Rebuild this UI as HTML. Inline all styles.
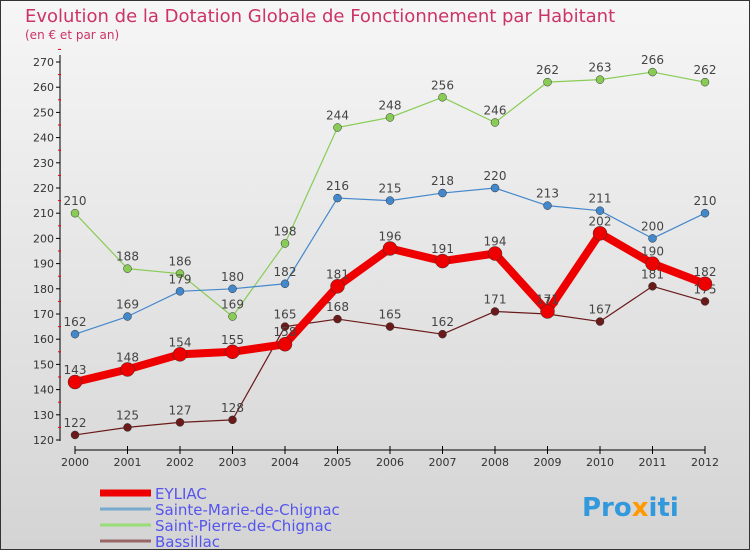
<!DOCTYPE html>
<html><head><meta charset="utf-8"><style>
body{margin:0;}
#c{width:750px;height:550px;position:relative;overflow:hidden;font-family:"DejaVu Sans","Liberation Sans",sans-serif;}
</style></head><body>
<div id="c">
<svg id="s" width="750" height="550" xmlns="http://www.w3.org/2000/svg">
<defs><linearGradient id="bg" x1="0" y1="0" x2="0" y2="1"><stop offset="0" stop-color="#f6f6f6"/><stop offset="1" stop-color="#d4d4d4"/></linearGradient></defs>
<rect x="0.5" y="0.5" width="749" height="549" fill="url(#bg)" stroke="#333"/>
<text x="25" y="22" font-size="18" fill="#cc3366">Evolution de la Dotation Globale de Fonctionnement par Habitant</text>
<text x="25" y="39" font-size="12" fill="#cc3366">(en € et par an)</text>
<g id="axes"></g><g id="series"></g><g id="legend"></g>
<text x="582" y="516" font-size="26" font-weight="bold" fill="#3399dd">Pro<tspan fill="#ff9900">x</tspan>iti</text>
</svg></div>
<script>
const years=["2000","2001","2002","2003","2004","2005","2006","2007","2008","2009","2010","2011","2012"];
const yTicks=[120,130,140,150,160,170,180,190,200,210,220,230,240,250,260,270];
const eyliac=[143,148,154,155,158,181,196,191,194,171,202,190,182];
const steMarie=[162,169,179,180,182,216,215,218,220,213,211,200,210];
const stPierre=[210,188,186,169,198,244,248,256,246,262,263,266,262];
const bassillac=[122,125,127,128,165,168,165,162,171,170,167,181,175];
const NS="http://www.w3.org/2000/svg";
const X=i=>75+i*52.5, Y=v=>440-(v-120)*2.52;
function mk(t,a,p){const e=document.createElementNS(NS,t);for(const k in a)e.setAttribute(k,a[k]);p.appendChild(e);return e;}
const ax=document.getElementById('axes');
let yl=mk('line',{x1:60,y1:55,x2:60,y2:441,stroke:'#000'},ax);

let xl=mk('line',{x1:75,y1:450,x2:705,y2:450,stroke:'#000'},ax);

yTicks.forEach(v=>{mk('line',{x1:56,y1:Y(v),x2:60,y2:Y(v),stroke:'#000'},ax);
mk('line',{x1:58,y1:Y(v+5),x2:61,y2:Y(v+5),stroke:'#e00'},ax);
const t=mk('text',{x:54,y:Y(v)+4,'font-size':11,'text-anchor':'end',fill:'#333'},ax);t.textContent=v;
});
years.forEach((y,i)=>{mk('line',{x1:X(i),y1:446,x2:X(i),y2:454,stroke:'#000'},ax);
const t=mk('text',{x:X(i),y:466,'font-size':11,'text-anchor':'middle',fill:'#333'},ax);t.textContent=y;
});
const sg=document.getElementById('series');
function series(d,col,w,r,name,labels){
const g=mk('g',{},sg);
const l=mk('polyline',{points:d.map((v,i)=>X(i)+','+Y(v)).join(' '),fill:'none',stroke:col,'stroke-width':w,'stroke-linejoin':'round'},g);

d.forEach((v,i)=>{const c=mk('circle',{cx:X(i),cy:Y(v),r:r,fill:col,stroke:'#333','stroke-width':0.5},g);

if(labels){const t=mk('text',{x:X(i),y:Y(v)-8,'font-size':12,'text-anchor':'middle',fill:'#444'},g);t.textContent=v;
}});}
series(bassillac,'#6b1a1a',1.2,4,'bassillac',true);
series(stPierre,'#88cc55',1.2,4,'saint-pierre',true);
series(steMarie,'#4488cc',1.2,4,'sainte-marie',true);
series(eyliac,'#ee0000',8,7,'eyliac',true);
const lg=document.getElementById('legend');
[['EYLIAC','#ee0000',7],['Sainte-Marie-de-Chignac','#77aacc',3],['Saint-Pierre-de-Chignac','#99dd77',3],['Bassillac','#996666',3]].forEach((e,i)=>{
const y=493+i*16;const g=mk('g',{},lg);
mk('line',{x1:100,y1:y,x2:151,y2:y,stroke:e[1],'stroke-width':e[2]},g);
const t=mk('text',{x:155,y:y+6,'font-size':15,fill:'#5555ee'},g);t.textContent=e[0];});
</script></body></html>
